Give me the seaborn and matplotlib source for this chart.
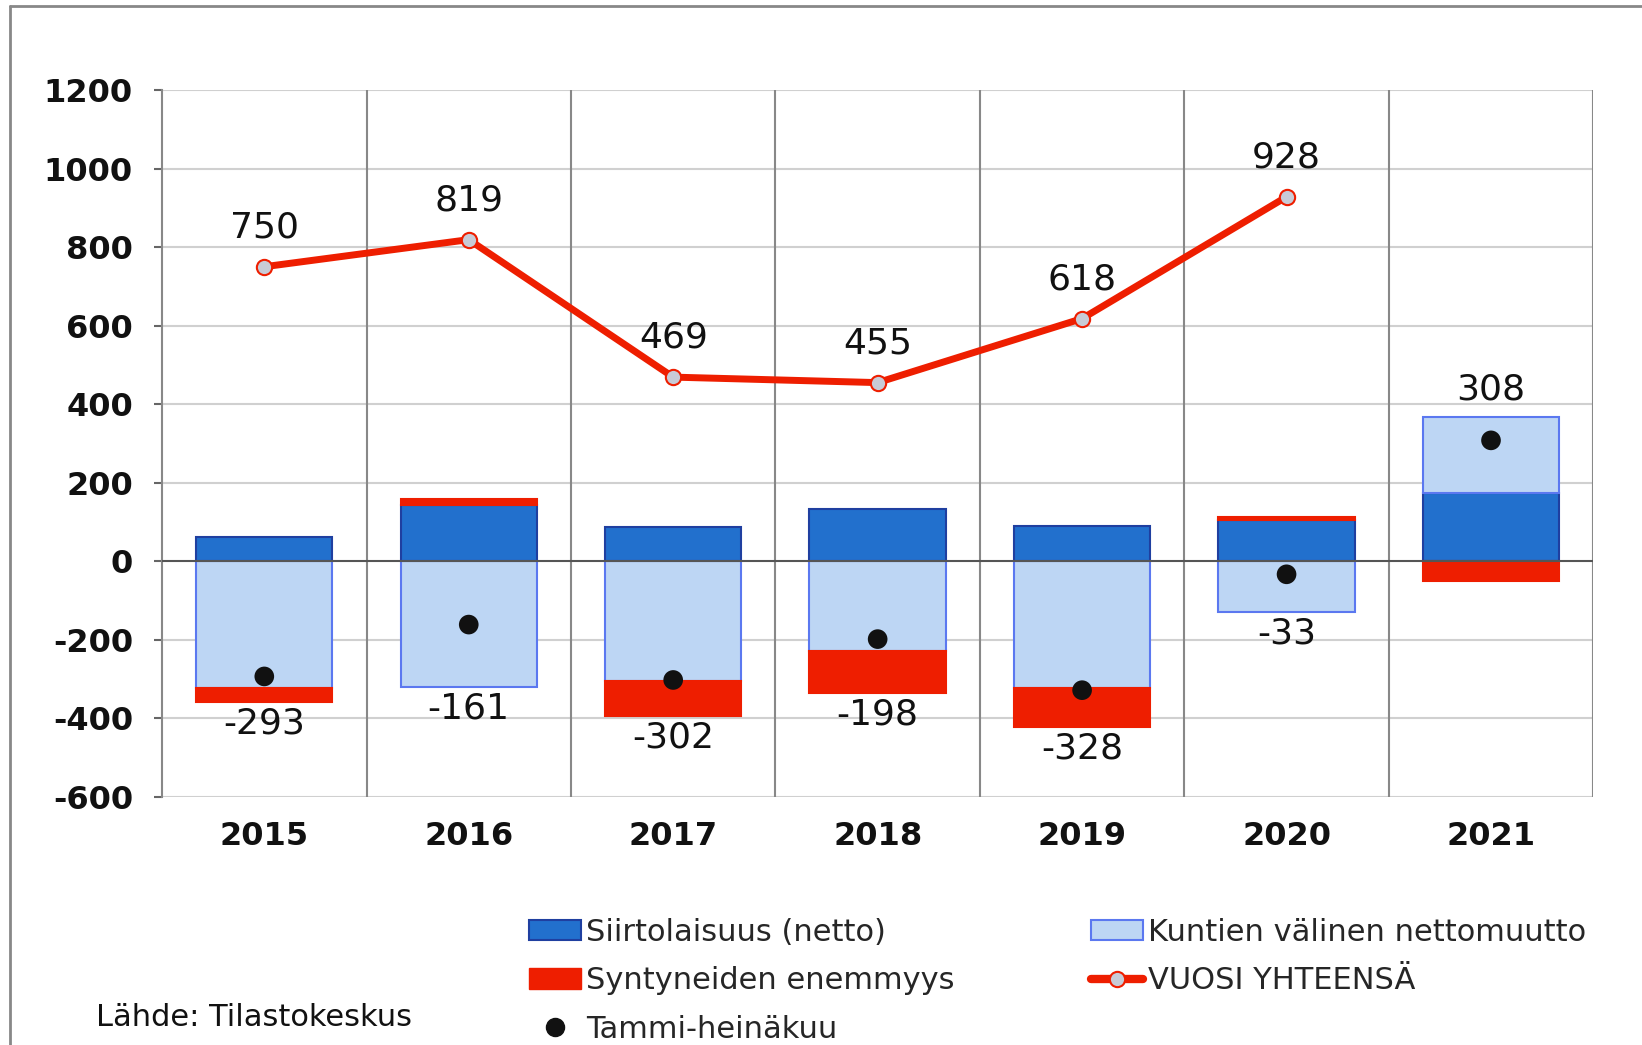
import numpy as np
import matplotlib
matplotlib.use("Agg")
import matplotlib.pyplot as plt
import seaborn as sns
from matplotlib.lines import Line2D
from matplotlib.patches import Patch

# -----------------------------
# DATA
# -----------------------------
years = ["2015", "2016", "2017", "2018", "2019", "2020", "2021"]
migration = [63, 144, 88, 133, 91, 104, 175]          # Siirtolaisuus (netto)
internal = [-323, -320, -304, -227, -323, -130, 192]  # Kuntien välinen nettomuutto
births = [-36, 14, -91, -109, -99, 10, -49]           # Syntyneiden enemmyys
year_total = [750, 819, 469, 455, 618, 928, np.nan]   # VUOSI YHTEENSÄ
jan_jul = [-293, -161, -302, -198, -328, -33, 308]    # Tammi-heinäkuu

# -----------------------------
# STYLE
# -----------------------------
sns.set_theme(style="white")
plt.rcParams["font.family"] = ["DejaVu Sans"]
plt.rcParams["axes.unicode_minus"] = False

DARK_BLUE = "#2270CD"
DARK_EDGE = "#1F3FA0"
LIGHT_BLUE = "#BDD6F4"
LIGHT_EDGE = "#5B78F0"
RED = "#EE1E00"

fig = plt.figure(figsize=(16.42, 10.45), dpi=100)
ax = fig.add_axes([0.0987, 0.2373, 0.8716, 0.6766])

x = np.arange(len(years))
width = 0.667

# stacked bars: positives and negatives stacked separately, in series order
series = [
    (migration, DARK_BLUE, DARK_EDGE),
    (internal, LIGHT_BLUE, LIGHT_EDGE),
    (births, RED, RED),
]
pos_base = np.zeros(len(years))
neg_base = np.zeros(len(years))
for vals, fc, ec in series:
    vals = np.array(vals, dtype=float)
    bottom = np.where(vals >= 0, pos_base, neg_base)
    ax.bar(x, vals, width=width, bottom=bottom, color=fc, edgecolor=ec,
           linewidth=1.5, zorder=3)
    pos_base = pos_base + np.where(vals >= 0, vals, 0)
    neg_base = neg_base + np.where(vals < 0, vals, 0)

# yearly total line
df_x = x.astype(float)
sns.lineplot(x=df_x, y=year_total, ax=ax, color=RED, linewidth=5,
             marker="o", markersize=11, markerfacecolor="#C8CBD6",
             markeredgecolor=RED, markeredgewidth=1.5, zorder=5)
for xi, v in zip(x, year_total):
    if not np.isnan(v):
        ax.annotate(f"{v:.0f}", (xi, v), xytext=(0, 16), textcoords="offset points",
                    ha="center", va="bottom", fontsize=26, color="#111111", zorder=6)

# january-july dots
sns.scatterplot(x=df_x, y=jan_jul, ax=ax, color="#111111", s=200,
                edgecolor="none", zorder=6)
for xi, v, lo, hi in zip(x, jan_jul, neg_base, pos_base):
    if v < 0:
        ax.annotate(f"{v}", (xi, lo), xytext=(0, -3), textcoords="offset points",
                    ha="center", va="top", fontsize=26, color="#111111", zorder=6)
    else:
        ax.annotate(f"{v}", (xi, hi), xytext=(0, 7.5), textcoords="offset points",
                    ha="center", va="bottom", fontsize=26, color="#111111", zorder=6)

# axes, grid
ax.set_xlim(-0.5, len(years) - 0.5)
ax.set_ylim(-600, 1200)
ax.set_yticks(np.arange(-600, 1201, 200))
ax.set_xticks(x)
ax.set_xticklabels(years)
ax.set_xlabel("")
ax.set_ylabel("")
for yv in np.arange(-600, 1201, 200):
    if yv != 0:
        ax.axhline(yv, color="#D0D0D0", linewidth=1.5, zorder=1)
ax.axhline(0, color="#555555", linewidth=1.5, zorder=4)
for xv in np.arange(0.5, len(years), 1.0):
    ax.axvline(xv, color="#888888", linewidth=1.5, zorder=1)

for side in ["top", "right", "bottom"]:
    ax.spines[side].set_visible(False)
ax.spines["left"].set_color("#888888")
ax.spines["left"].set_linewidth(1.5)
ax.tick_params(axis="y", direction="out", length=6, width=1.5, color="#666666",
               pad=15, labelsize=23, left=True)
ax.tick_params(axis="x", length=0, pad=17, labelsize=23)
for lab in ax.get_yticklabels() + ax.get_xticklabels():
    lab.set_fontweight("bold")
    lab.set_color("#111111")

# legend
handles = [
    Patch(facecolor=DARK_BLUE, edgecolor=DARK_EDGE, linewidth=1.5),
    Patch(facecolor=RED, edgecolor=RED),
    Line2D([], [], linestyle="none", marker="o", markersize=13, color="#111111"),
    Patch(facecolor=LIGHT_BLUE, edgecolor=LIGHT_EDGE, linewidth=1.5),
    Line2D([], [], color=RED, linewidth=6, marker="o", markersize=11,
           markerfacecolor="#C8CBD6", markeredgecolor=RED, markeredgewidth=1.5),
]
labels = ["Siirtolaisuus (netto)", "Syntyneiden enemmyys", "Tammi-heinäkuu",
          "Kuntien välinen nettomuutto", "VUOSI YHTEENSÄ"]
fig.legend(handles, labels, loc="upper left", bbox_to_anchor=(529 / 1642, 1 - 918 / 1045),
           ncol=2, frameon=False, fontsize=22, borderpad=0, borderaxespad=0,
           handlelength=1.7, handleheight=0.65, handletextpad=0.17,
           columnspacing=4.45, labelspacing=0.63)

fig.text(96 / 1642, 1 - 1018 / 1045, "Lähde: Tilastokeskus", fontsize=22,
         va="center", ha="left", color="#111111")

# outer frame
fig.add_artist(Line2D([10 / 1642, 10 / 1642], [0, 1 - 6 / 1045], transform=fig.transFigure,
                      color="#888888", linewidth=2))
fig.add_artist(Line2D([10 / 1642, 1], [1 - 6 / 1045, 1 - 6 / 1045], transform=fig.transFigure,
                      color="#888888", linewidth=2))

fig.savefig("out.png", dpi=100)
